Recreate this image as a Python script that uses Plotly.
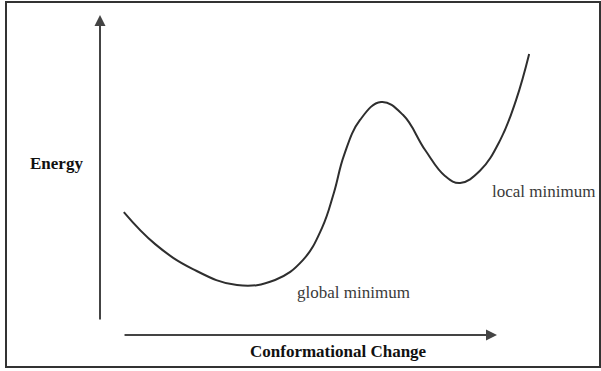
import plotly.graph_objects as go

# Energy landscape along a conformational coordinate (arbitrary units)
conformation = [0.60, 1.39, 2.34, 3.45, 4.41, 5.11, 5.59, 5.89, 6.15, 6.55,
                7.08, 7.63, 8.19, 8.69, 9.07, 9.57, 10.08, 10.48, 10.81]
energy = [3.84, 2.84, 2.06, 1.56, 1.72, 2.34, 3.34, 4.44, 5.63, 6.72,
          7.28, 6.88, 5.78, 4.97, 4.75, 5.13, 6.09, 7.34, 8.78]

labels = {
    "global": ("global minimum", 6.39, 1.34),
    "local": ("local minimum", 11.16, 4.47),
}

serif = "Liberation Serif, Times New Roman, serif"

fig = go.Figure()
fig.add_trace(go.Scatter(
    x=conformation, y=energy, mode="lines",
    line=dict(color="#2e2e2e", width=2, shape="spline", smoothing=1.2),
    hoverinfo="skip", showlegend=False,
))

# Axis arrows
arrow_style = dict(showarrow=True, arrowhead=2, arrowsize=1.1, arrowwidth=2,
                   arrowcolor="#444", text="", xref="x", yref="y",
                   axref="x", ayref="y")
fig.add_annotation(x=0, y=10.0, ax=0, ay=0.44, **arrow_style)
fig.add_annotation(x=10.0, y=0, ax=0.58, ay=0, **arrow_style)

# Axis titles
fig.add_annotation(x=-1.10, y=5.375, text="<b>Energy</b>", showarrow=False,
                   font=dict(family=serif, size=17, color="#111"))
fig.add_annotation(x=6.0, y=-0.53, text="<b>Conformational Change</b>",
                   showarrow=False, font=dict(family=serif, size=17, color="#111"))

for text, lx, ly in labels.values():
    fig.add_annotation(x=lx, y=ly, text=text, showarrow=False,
                       font=dict(family=serif, size=17, color="#3a3a3a"))

# Frame around the figure
fig.add_shape(type="rect", xref="paper", yref="paper",
              x0=6 / 601, x1=600 / 601, y0=1 - 367 / 371, y1=1 - 2 / 371,
              line=dict(color="#333", width=2))

fig.update_xaxes(range=[-100 / 39.7, 501 / 39.7], visible=False)
fig.update_yaxes(range=[-36 / 32, 335 / 32], visible=False)
fig.update_layout(
    width=601, height=371,
    margin=dict(l=0, r=0, t=0, b=0),
    paper_bgcolor="white", plot_bgcolor="white",
)

fig.write_html("out.html")
